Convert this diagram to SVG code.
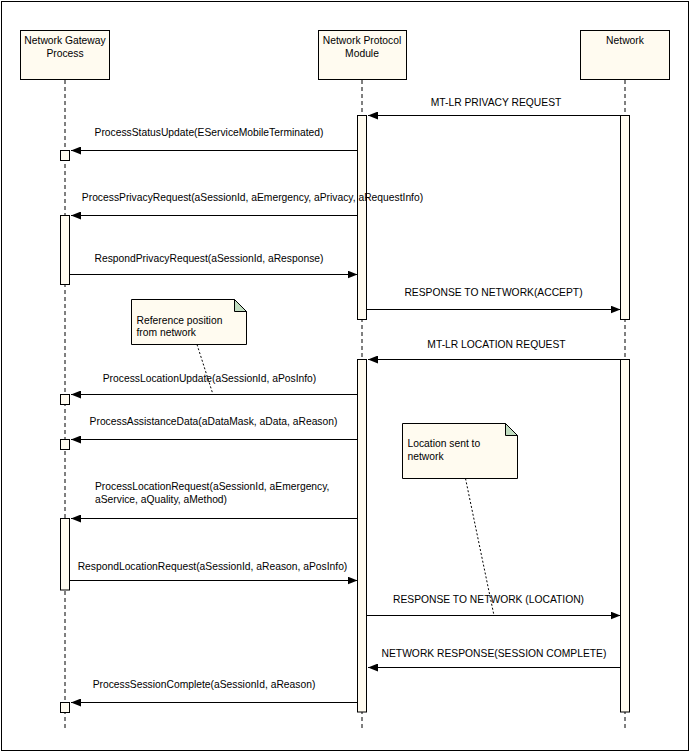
<svg xmlns="http://www.w3.org/2000/svg" width="690" height="752" viewBox="0 0 690 752">
<style>
text{font-family:"Liberation Sans",Arial,sans-serif;font-size:10.3px;fill:#000}
.head{fill:#FFFBF0;stroke:#000;stroke-width:1}
.act{fill:#FFFBF0;stroke:#000;stroke-width:1}
.life{stroke:#000;stroke-width:1;stroke-dasharray:4,3;fill:none}
.msg{stroke:#000;stroke-width:1;fill:none;marker-end:url(#ah)}
.note{fill:#FFFBF0;stroke:#000;stroke-width:1}
.fold{fill:#C0DCC0;stroke:#000;stroke-width:1}
.link{stroke:#000;stroke-width:1;stroke-dasharray:2,2;fill:none}
.c{text-anchor:middle}
</style>
<defs>
<marker id="ah" viewBox="0 0 10 8" refX="10" refY="4" markerWidth="10" markerHeight="8" markerUnits="userSpaceOnUse" orient="auto">
<path d="M0,0 L10,4 L0,8 Z" fill="#000"/>
</marker>
</defs>
<rect x="1.5" y="1.5" width="687" height="749" fill="#fff" stroke="#000" stroke-width="1"/>
<g id="lifelines">
<line class="life" x1="65" y1="80" x2="65" y2="730"/>
<line class="life" x1="362" y1="80" x2="362" y2="730"/>
<line class="life" x1="625" y1="80" x2="625" y2="730"/>
</g>
<g id="gateway">
<rect class="head" x="20.5" y="30.5" width="89" height="49"/>
<text class="c" x="65" y="44">Network Gateway</text>
<text class="c" x="65" y="56.5">Process</text>
<rect class="act" x="60.5" y="150.5" width="9" height="10"/>
<rect class="act" x="60.5" y="215.5" width="9" height="69"/>
<rect class="act" x="60.5" y="394.5" width="9" height="10"/>
<rect class="act" x="60.5" y="439.5" width="9" height="10"/>
<rect class="act" x="60.5" y="518.5" width="9" height="71.5"/>
<rect class="act" x="60.5" y="702.5" width="9" height="10"/>
</g>
<g id="protocol">
<rect class="head" x="318.5" y="30.5" width="88" height="49"/>
<text class="c" x="362" y="44">Network Protocol</text>
<text class="c" x="362" y="56.5">Module</text>
<rect class="act" x="357.5" y="115.5" width="9" height="204"/>
<rect class="act" x="357.5" y="359.5" width="9" height="352.5"/>
</g>
<g id="network">
<rect class="head" x="580.5" y="30.5" width="89" height="49"/>
<text class="c" x="625" y="44">Network</text>
<rect class="act" x="620.5" y="115.5" width="9" height="204"/>
<rect class="act" x="620.5" y="359.5" width="9" height="352.5"/>
</g>
<g id="note1">
<path class="note" d="M131.5,299.5 L234.5,299.5 L246.5,311.5 L246.5,344.5 L131.5,344.5 Z"/>
<path class="fold" d="M234.5,299.5 L234.5,311.5 L246.5,311.5 Z"/>
<text x="136.5" y="323.5">Reference position</text>
<text x="136.5" y="336">from network</text>
</g>
<g id="note2">
<path class="note" d="M402.5,423.5 L505.5,423.5 L517.5,435.5 L517.5,478.5 L402.5,478.5 Z"/>
<path class="fold" d="M505.5,423.5 L505.5,435.5 L517.5,435.5 Z"/>
<text x="407.5" y="446.5">Location sent to</text>
<text x="407.5" y="459.5">network</text>
</g>
<g id="connectors">
<line class="msg" x1="620.5" y1="115.5" x2="368" y2="115.5"/>
<text class="c" x="496" y="106">MT-LR PRIVACY REQUEST</text>
<line class="msg" x1="357.5" y1="150.5" x2="71" y2="150.5"/>
<text class="c" x="209" y="136">ProcessStatusUpdate(EServiceMobileTerminated)</text>
<line class="msg" x1="357.5" y1="215.5" x2="71" y2="215.5"/>
<text class="c" x="252.5" y="201">ProcessPrivacyRequest(aSessionId, aEmergency, aPrivacy, aRequestInfo)</text>
<line class="msg" x1="69.5" y1="274.5" x2="357.5" y2="274.5"/>
<text class="c" x="209" y="262">RespondPrivacyRequest(aSessionId, aResponse)</text>
<line class="msg" x1="366.5" y1="309.5" x2="620.5" y2="309.5"/>
<text class="c" x="493.5" y="296">RESPONSE TO NETWORK(ACCEPT)</text>
<line class="msg" x1="620.5" y1="359.5" x2="368" y2="359.5"/>
<text class="c" x="496.5" y="347.5">MT-LR LOCATION REQUEST</text>
<line class="msg" x1="357.5" y1="394.5" x2="71" y2="394.5"/>
<text class="c" x="209.5" y="381.5">ProcessLocationUpdate(aSessionId, aPosInfo)</text>
<line class="msg" x1="357.5" y1="439.5" x2="71" y2="439.5"/>
<text class="c" x="213.5" y="425">ProcessAssistanceData(aDataMask, aData, aReason)</text>
<line class="msg" x1="357.5" y1="518.5" x2="71" y2="518.5"/>
<text x="95" y="489.5">ProcessLocationRequest(aSessionId, aEmergency,</text>
<text x="95" y="502.5">aService, aQuality, aMethod)</text>
<line class="msg" x1="69.5" y1="580.5" x2="357.5" y2="580.5"/>
<text class="c" x="212.5" y="570">RespondLocationRequest(aSessionId, aReason, aPosInfo)</text>
<line class="msg" x1="366.5" y1="615.5" x2="620.5" y2="615.5"/>
<text class="c" x="488.5" y="603">RESPONSE TO NETWORK (LOCATION)</text>
<line class="msg" x1="620.5" y1="667.5" x2="368" y2="667.5"/>
<text class="c" x="494" y="657">NETWORK RESPONSE(SESSION COMPLETE)</text>
<line class="msg" x1="357.5" y1="702.5" x2="71" y2="702.5"/>
<text class="c" x="204" y="688">ProcessSessionComplete(aSessionId, aReason)</text>
<line class="link" x1="197" y1="344.5" x2="213" y2="394.5"/>
<line class="link" x1="465.5" y1="478.5" x2="494" y2="615.5"/>
</g>
</svg>
